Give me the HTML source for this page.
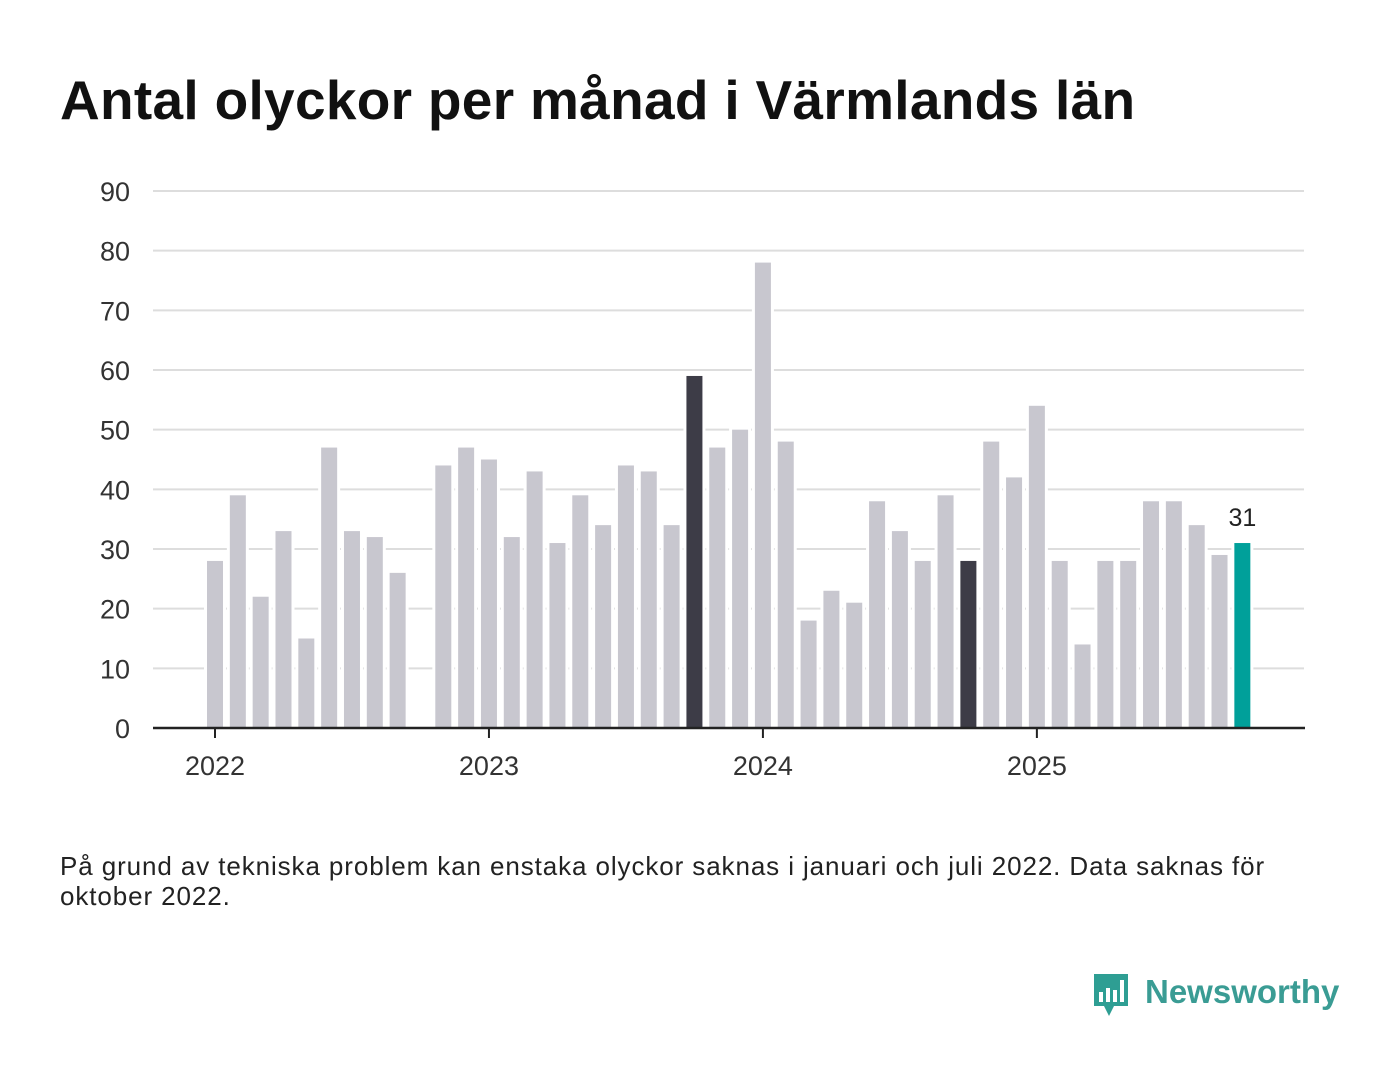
<!DOCTYPE html>
<html><head><meta charset="utf-8">
<style>
body{margin:0;background:#fff;width:1400px;height:1080px;overflow:hidden;font-family:"Liberation Sans",sans-serif;}
#title{position:absolute;left:60px;top:68px;font-size:55px;font-weight:bold;color:#111;margin:0;letter-spacing:0.3px;white-space:nowrap}
#note{position:absolute;left:60px;top:851px;width:1230px;font-size:26px;line-height:30px;color:#222;letter-spacing:0.9px}
#logo{position:absolute;left:1090px;top:970px}
</style></head><body>
<h1 id="title">Antal olyckor per månad i Värmlands län</h1>
<svg id="chart" width="1400" height="1080" style="position:absolute;left:0;top:0"></svg>
<div id="note">På grund av tekniska problem kan enstaka olyckor saknas i januari och juli 2022. Data saknas för oktober 2022.</div>
<svg id="logo" width="260" height="55">
<path d="M4 4h34v32h-14l-5 10-5-10h-10z" fill="#2e9e93"/>
<rect x="9" y="22" width="4" height="10" fill="#fff"/><rect x="16" y="18" width="4" height="14" fill="#fff"/><rect x="23" y="20" width="4" height="12" fill="#fff"/><rect x="30" y="10" width="4" height="22" fill="#fff"/>
<text x="55" y="33" font-size="33" font-weight="bold" fill="#3a9c94" font-family="Liberation Sans, sans-serif">Newsworthy</text>
</svg>
<script>
const months=[];for(let y=2022;y<=2025;y++)for(let m=1;m<=12;m++){if(y===2025&&m>10)break;months.push(y+'-'+m);}
const values=[28,39,22,33,15,47,33,32,26,null,44,47,45,32,43,31,39,34,44,43,34,59,47,50,78,48,18,23,21,38,33,28,39,28,48,42,54,28,14,28,28,38,38,34,29,31];
const yTicks=[0,10,20,30,40,50,60,70,80,90];
const yearLabels=["2022","2023","2024","2025"];
const NS="http://www.w3.org/2000/svg";
const svg=document.getElementById('chart');
const x0=215,step=22.83,yZero=728,pxPer=537/90;
const xs=i=>x0+i*step, ys=v=>yZero-v*pxPer;
function el(t,a){const e=document.createElementNS(NS,t);for(const k in a)e.setAttribute(k,a[k]);svg.appendChild(e);return e;}
yTicks.forEach(t=>{
 const g=el('line',{x1:153,x2:1304,y1:ys(t),y2:ys(t),stroke:'#ddd','stroke-width':2});
 
 const tx=el('text',{x:130,y:ys(t)+10,'text-anchor':'end','font-size':27,fill:'#333'});tx.textContent=t;
 
});
values.forEach((v,i)=>{
 if(v==null)return;
 const x=xs(i);
 el('rect',{x:x-11,y:ys(v)-3,width:22,height:v*pxPer+3,fill:'#fff'});
 const m=months[i];
 let c='#c8c7cf';
 if(m.endsWith('-10'))c='#3d3c47';
 if(i===values.length-1)c='#00a09a';
 const r=el('rect',{x:x-8,y:ys(v),width:16,height:v*pxPer,fill:c});
 
 
});
const last=values.length-1;
const lab=el('text',{x:xs(last),y:ys(values[last])-17,'text-anchor':'middle','font-size':25,fill:'#222'});lab.textContent=values[last];


const ax=el('line',{x1:153,x2:1305,y1:yZero,y2:yZero,stroke:'#222','stroke-width':2.5});


yearLabels.forEach((y,k)=>{
 const x=xs(k*12);
 el('line',{x1:x,x2:x,y1:yZero,y2:yZero+10,stroke:'#222','stroke-width':2});
 const t=el('text',{x:x,y:775,'text-anchor':'middle','font-size':27,fill:'#333'});t.textContent=y;
 
 
});
</script>
</body></html>
